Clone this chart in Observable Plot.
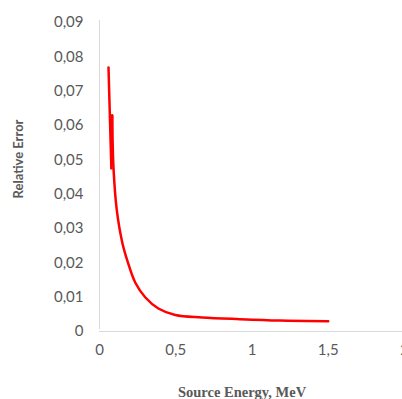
<!DOCTYPE html>
<html>
<head>
<meta charset="utf-8">
<script src="https://cdn.jsdelivr.net/npm/d3@7"></script>
<script src="https://cdn.jsdelivr.net/npm/@observablehq/plot@0.6"></script>
<style>
  html, body { margin: 0; padding: 0; background: #fff; overflow: hidden; }
</style>
</head>
<body>
<div id="chart"></div>
<script>
// Data
const energy   = [0.059, 0.078, 0.083, 0.092, 0.113, 0.150, 0.185, 0.235, 0.301, 0.386, 0.497, 0.673, 0.92, 1.18, 1.5];
const relError = [0.0769, 0.0472, 0.0629, 0.0475, 0.0355, 0.0258, 0.0203, 0.0142, 0.0099, 0.0067, 0.0048, 0.0041, 0.0036, 0.0032, 0.0030];
const xTicks = [0, 0.5, 1, 1.5, 2];
const yTicks = [0, 0.01, 0.02, 0.03, 0.04, 0.05, 0.06, 0.07, 0.08, 0.09];
const xTitle = "Source Energy, MeV";
const yTitle = "Relative Error";

const data = energy.map((e, i) => ({energy: e, err: relError[i]}));
const comma = d => String(d).replace(".", ",");

const gray = "#595959";
const chart = Plot.plot({
  width: 402,
  height: 399,
  marginLeft: 99,
  marginTop: 22,
  marginBottom: 68,
  marginRight: -2,
  style: {fontFamily: "Lato, 'Open Sans', sans-serif", background: "#fff", overflow: "visible"},
  x: {domain: [0, 2]},
  y: {domain: [0, 0.09]},
  marks: [
    Plot.ruleY([0], {stroke: "#d9d9d9", strokeWidth: 1}),
    Plot.ruleX([0], {y1: 0, y2: 0.09, stroke: "#d9d9d9", strokeWidth: 1, dy: -2}),
    Plot.axisX({ticks: xTicks, tickFormat: comma, tickSize: 0, tickPadding: 13, fontSize: 15, fill: gray, label: null}),
    Plot.axisY({ticks: yTicks, tickFormat: comma, tickSize: 0, tickPadding: 16, fontSize: 15, fill: gray, label: null}),
    // sharp zigzag at the start
    Plot.line(data.slice(0, 3), {x: "energy", y: "err", stroke: "#ff0000", strokeWidth: 2.5, curve: "linear", strokeLinejoin: "miter"}),
    // smooth decay afterwards
    Plot.line(data.slice(2), {x: "energy", y: "err", stroke: "#ff0000", strokeWidth: 2.5, curve: "catmull-rom"}),
    Plot.text([yTitle], {text: d => d, frameAnchor: "left", textAnchor: "middle", lineAnchor: "middle", rotate: -90, dx: -81, dy: -18, fontSize: 13, fontWeight: "bold", fill: gray, fontFamily: "Lato, sans-serif"}),
    Plot.text([xTitle], {text: d => d, frameAnchor: "bottom", textAnchor: "middle", lineAnchor: "middle", dx: -10, dy: 61, fontSize: 14.5, fontWeight: "bold", fill: gray, fontFamily: "'Liberation Serif', 'Times New Roman', serif"})
  ]
});
document.getElementById("chart").appendChild(chart);
</script>
</body>
</html>
